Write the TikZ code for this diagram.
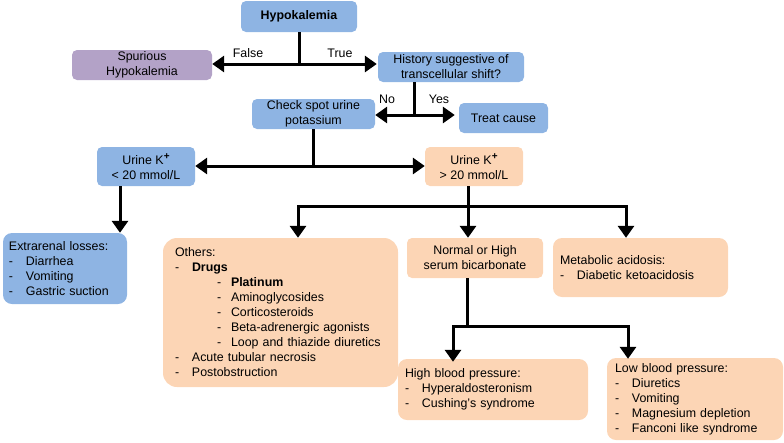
\documentclass[tikz,border=0pt]{standalone}
\usepackage{fontspec}
\setmainfont{Liberation Sans}
\usetikzlibrary{arrows.meta}
\definecolor{blueC}{HTML}{8EB4E3}
\definecolor{peachC}{HTML}{FCD5B5}
\definecolor{purpC}{HTML}{B3A2C7}
\newcommand{\itm}[1]{\makebox[17pt][l]{-}#1}
\newcommand{\sitm}[1]{\hspace*{42pt}\makebox[14pt][l]{-}#1}
\newcommand{\kplus}{\raisebox{4.5pt}{\fontsize{10}{10}\selectfont\textbf{+}}}
\begin{document}
\begin{tikzpicture}[x=1pt,y=-1pt,
  txt/.style={font=\fontsize{12.4}{15}\selectfont},
  cbox/.style={txt,rounded corners=5pt,align=center,inner sep=0pt},
  lbox/.style={txt,rounded corners=9pt,align=left,inner ysep=0pt},
  line/.style={line width=3pt},
  arr/.style={line width=3pt,-{Triangle[width=16pt,length=12pt]}},
  lab/.style={txt,inner sep=0pt}
]
\useasboundingbox (0,0) rectangle (784,442);

% centered boxes
\node[cbox,fill=blueC,minimum width=116pt,minimum height=31pt] (hypo) at (299,16.5) {\textbf{Hypokalemia}};
\node[cbox,fill=purpC,minimum width=140pt,minimum height=30pt] (spur) at (142,65) {Spurious\\Hypokalemia};
\node[cbox,fill=blueC,minimum width=146pt,minimum height=30pt] (hist) at (451,67) {History suggestive of\\transcellular shift?};
\node[cbox,fill=blueC,minimum width=123pt,minimum height=30pt] (check) at (313.5,114) {Check spot urine\\potassium};
\node[cbox,fill=blueC,minimum width=89pt,minimum height=30pt] (treat) at (503.5,118) {Treat cause};
\node[cbox,fill=blueC,minimum width=98pt,minimum height=39pt] (u1) at (146,166.5) {Urine K\kplus\\< 20 mmol/L};
\node[cbox,fill=peachC,minimum width=98pt,minimum height=39pt] (u2) at (474,166.5) {Urine K\kplus\\> 20 mmol/L};
\node[cbox,fill=peachC,minimum width=136pt,minimum height=40pt] (norm) at (475,258) {Normal or High\\serum bicarbonate};

% list boxes
\node[lbox,fill=blueC,inner xsep=6pt,text width=112pt,minimum height=71pt] (ext) at (65,268.5)
  {Extrarenal losses:\\\itm{Diarrhea}\\\itm{Vomiting}\\\itm{Gastric suction}};
\node[lbox,fill=peachC,rounded corners=14pt,inner xsep=12pt,text width=211pt,minimum height=149pt] (oth) at (280.5,312.5)
  {Others:\\\itm{\textbf{Drugs}}\\\sitm{\textbf{Platinum}}\\\sitm{Aminoglycosides}\\\sitm{Corticosteroids}\\\sitm{Beta-adrenergic agonists}\\\sitm{Loop and thiazide diuretics}\\\itm{Acute tubular necrosis}\\\itm{Postobstruction}};
\node[lbox,fill=peachC,inner xsep=7pt,text width=161pt,minimum height=59pt] (meta) at (640.5,267.5)
  {Metabolic acidosis:\\\itm{Diabetic ketoacidosis}};
\node[lbox,fill=peachC,inner xsep=7pt,text width=176pt,minimum height=61pt] (high) at (493,389.5)
  {High blood pressure:\\\itm{Hyperaldosteronism}\\\itm{Cushing's syndrome}};
\node[lbox,fill=peachC,inner xsep=8pt,text width=160pt,minimum height=82pt] (low) at (695,399)
  {Low blood pressure:\\\itm{Diuretics}\\\itm{Vomiting}\\\itm{Magnesium depletion}\\\itm{Fanconi like syndrome}};

% junctions
\coordinate (j1) at (299,64);
\coordinate (j2) at (414,115);
\coordinate (j3) at (313,166);
\coordinate (a1) at (120,0);
\coordinate (j4) at (468,206);
\coordinate (o1) at (298,0);
\coordinate (m1) at (626,0);
\coordinate (j5) at (467,326);
\coordinate (h1) at (453,0);
\coordinate (l1) at (628,0);

% connectors
\draw[line] (hypo.south -| j1) -- (j1);
\draw[arr] (j1) -- (spur.east |- j1);
\draw[arr] (j1) -- ([xshift=-1pt]hist.west |- j1);
\node[lab] (lf) at (248,53) {False};
\node[lab] (lt) at (340,53) {True};

\draw[line] (hist.south -| j2) -- (j2);
\draw[arr] (j2) -- (check.east |- j2);
\draw[arr] (j2) -- ([xshift=-4pt]treat.west |- j2);
\node[lab] (ln) at (387,99) {No};
\node[lab] (ly) at (439,99) {Yes};

\draw[line] (check.south -| j3) -- (j3);
\draw[arr] (j3) -- (u1.east |- j3);
\draw[arr] (j3) -- (u2.west |- j3);

\draw[arr] (u1.south -| a1) -- (ext.north -| a1);

\draw[line] (u2.south -| j4) -- (j4);
\draw[arr] (j4) -- (norm.north -| j4);
\draw[arr] (j4) -| (oth.north -| o1);
\draw[arr] (j4) -| (meta.north -| m1);

\draw[line] (norm.south -| j5) -- (j5);
\draw[arr] (j5) -| ([yshift=-3pt]high.north -| h1);
\draw[arr] (j5) -| ([yshift=-1pt]low.north -| l1);
\end{tikzpicture}
\end{document}
